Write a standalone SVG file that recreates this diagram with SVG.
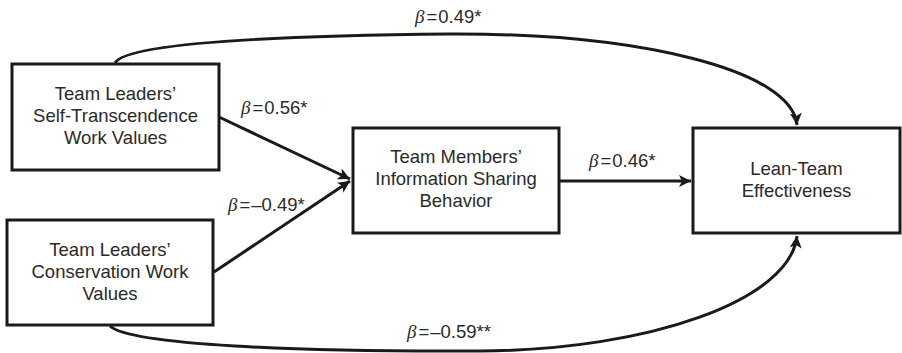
<svg xmlns="http://www.w3.org/2000/svg" width="902" height="353" viewBox="0 0 902 353">
<style>
.box{fill:#fff;stroke:#1a1a1a;stroke-width:3}
.t{font-family:"Liberation Sans",Arial,sans-serif;font-size:18.5px;fill:#2a2a2a;text-anchor:middle}
.l{font-family:"Liberation Sans",Arial,sans-serif;font-size:18.5px;fill:#2a2a2a}
.b{font-family:"Liberation Serif","Times New Roman",serif;font-style:italic;font-size:19px}
.c{fill:none;stroke:#1a1a1a;stroke-width:3}
</style>
<defs>
<marker id="ah" markerUnits="userSpaceOnUse" markerWidth="14" markerHeight="12" refX="12" refY="6" orient="auto">
<path d="M0,0 L12,6 L0,12 L3,6 Z" fill="#1a1a1a"/>
</marker>
</defs>
<g id="connectors">
<path class="c" d="M219,117 L350,179" marker-end="url(#ah)"/>
<path class="c" d="M214,272 L350,181" marker-end="url(#ah)"/>
<path class="c" d="M559,181 L691,181" marker-end="url(#ah)"/>
<path class="c" d="M115,63 C125,45 250,36 450,34 C640,33 792,70 797,125" marker-end="url(#ah)"/>
<path class="c" d="M110,326 C130,345 300,352 480,351 C650,350 790,300 797,236" marker-end="url(#ah)"/>
<text class="l" x="241" y="114"><tspan class="b">β</tspan><tspan dx="2">=</tspan><tspan dx="1">0.56*</tspan></text>
<text class="l" x="228" y="211"><tspan class="b">β</tspan><tspan dx="2">=</tspan><tspan dx="1">–0.49*</tspan></text>
<text class="l" x="589" y="167"><tspan class="b">β</tspan><tspan dx="2">=</tspan><tspan dx="1">0.46*</tspan></text>
<text class="l" x="415" y="23"><tspan class="b">β</tspan><tspan dx="2">=</tspan><tspan dx="1">0.49*</tspan></text>
<text class="l" x="407" y="338"><tspan class="b">β</tspan><tspan dx="2">=</tspan><tspan dx="1">–0.59**</tspan></text>
</g>
<g id="self-transcendence">
<rect class="box" x="12" y="64" width="207" height="106"/>
<text class="t" x="115.5" y="100">Team Leaders’</text>
<text class="t" x="115.5" y="122">Self-Transcendence</text>
<text class="t" x="115.5" y="144">Work Values</text>
</g>
<g id="conservation">
<rect class="box" x="7" y="220" width="206" height="105"/>
<text class="t" x="110" y="256">Team Leaders’</text>
<text class="t" x="110" y="278">Conservation Work</text>
<text class="t" x="110" y="300">Values</text>
</g>
<g id="information-sharing">
<rect class="box" x="353" y="128" width="206" height="105"/>
<text class="t" x="456" y="163">Team Members’</text>
<text class="t" x="456" y="185">Information Sharing</text>
<text class="t" x="456" y="207">Behavior</text>
</g>
<g id="effectiveness">
<rect class="box" x="693" y="128" width="207" height="105"/>
<text class="t" x="796.5" y="175">Lean-Team</text>
<text class="t" x="796.5" y="197">Effectiveness</text>
</g>
</svg>
